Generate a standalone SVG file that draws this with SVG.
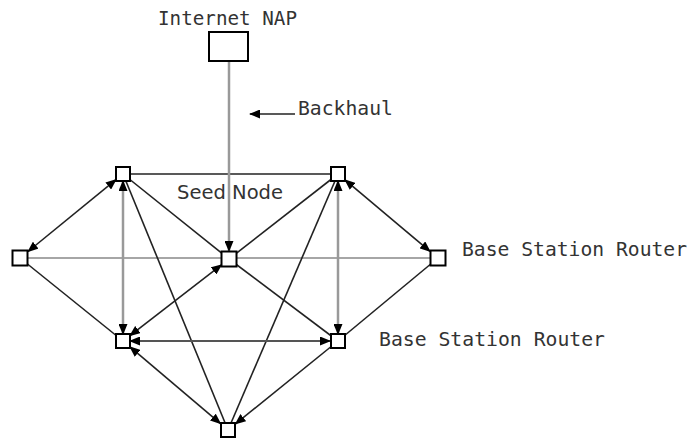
<svg xmlns="http://www.w3.org/2000/svg" width="690" height="441" viewBox="0 0 690 441">
<style>
.n{fill:#fff;stroke:#000;stroke-width:2}
.k{stroke:#222;stroke-width:1.6;fill:none}
.g{stroke:#999;stroke-width:2.5;fill:none}
.gh{stroke:#888;stroke-width:1.6;fill:none}
.d{stroke:#555;stroke-width:1.8;fill:none}
.t{font-family:"DejaVu Sans Mono","Liberation Mono",monospace;font-size:19.5px;fill:#333}
.s{font-family:"DejaVu Sans","Liberation Sans",sans-serif;font-size:20px;fill:#333}
</style>
<defs>
<marker id="a" markerUnits="userSpaceOnUse" markerWidth="11" markerHeight="9" refX="10" refY="4.5" orient="auto-start-reverse" viewBox="0 0 11 9">
<path d="M0,0 L11,4.5 L0,9 z" fill="#000"/>
</marker>
</defs>
<g id="connectors">
<line class="k" x1="123" y1="174" x2="338" y2="174"/>
<line class="k" x1="123" y1="174" x2="229" y2="259"/>
<line class="k" x1="338" y1="174" x2="229" y2="259"/>
<line class="gh" x1="20" y1="258" x2="438" y2="258"/>
<line class="g" x1="229" y1="61" x2="229" y2="251" marker-end="url(#a)"/>
<line class="k" x1="28" y1="251.5" x2="116" y2="179.7" marker-start="url(#a)" marker-end="url(#a)"/>
<line class="k" x1="345" y1="179.9" x2="430" y2="251.3" marker-start="url(#a)" marker-end="url(#a)"/>
<line class="g" x1="123" y1="181" x2="123" y2="334" marker-start="url(#a)" marker-end="url(#a)"/>
<line class="g" x1="338" y1="181" x2="338" y2="334" marker-start="url(#a)" marker-end="url(#a)"/>
<line class="k" x1="123" y1="174" x2="228" y2="430"/>
<line class="k" x1="338" y1="174" x2="228" y2="430"/>
<line class="k" x1="20" y1="258" x2="123" y2="341"/>
<line class="k" x1="438" y1="258" x2="338" y2="341"/>
<line class="k" x1="221.5" y1="264.8" x2="130" y2="335.6" marker-start="url(#a)" marker-end="url(#a)"/>
<line class="k" x1="229" y1="259" x2="338" y2="341"/>
<line class="d" x1="130" y1="341" x2="330" y2="341" marker-start="url(#a)" marker-end="url(#a)"/>
<line class="k" x1="130" y1="346.9" x2="220.5" y2="423.6" marker-start="url(#a)" marker-end="url(#a)"/>
<line class="k" x1="338" y1="341" x2="235.5" y2="423.9" marker-end="url(#a)"/>
<line class="k" x1="295" y1="114" x2="250" y2="114" marker-end="url(#a)"/>
</g>
<g id="nap"><rect class="n" x="209" y="32" width="39" height="29"/><text class="t" x="158" y="25" textLength="139" lengthAdjust="spacingAndGlyphs">Internet NAP</text></g>
<g id="backhaul-label"><text class="t" x="298" y="115" textLength="95" lengthAdjust="spacingAndGlyphs">Backhaul</text></g>
<g id="node-tl"><rect class="n" x="116" y="167" width="14" height="14"/></g>
<g id="node-tr"><rect class="n" x="331" y="167" width="14" height="14"/></g>
<g id="node-seed"><rect class="n" x="221.5" y="251.5" width="15" height="15"/><text class="s" x="177" y="199" textLength="106" lengthAdjust="spacingAndGlyphs">Seed Node</text></g>
<g id="node-l"><rect class="n" x="12.5" y="250.5" width="15" height="15"/></g>
<g id="node-r"><rect class="n" x="430.5" y="250.5" width="15" height="15"/><text class="t" x="462" y="256" textLength="225" lengthAdjust="spacingAndGlyphs">Base Station Router</text></g>
<g id="node-bl"><rect class="n" x="116" y="334" width="14" height="14"/></g>
<g id="node-br"><rect class="n" x="331" y="334" width="14" height="14"/><text class="t" x="379" y="346" textLength="226" lengthAdjust="spacingAndGlyphs">Base Station Router</text></g>
<g id="node-b"><rect class="n" x="221" y="423" width="14" height="14"/></g>
</svg>
